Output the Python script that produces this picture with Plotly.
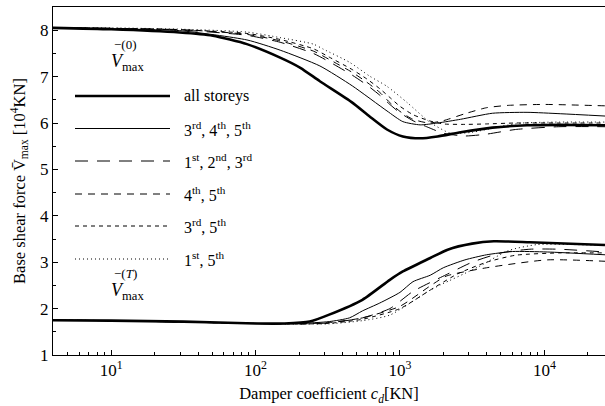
import numpy as np
import plotly.graph_objects as go

# Damper coefficient samples (log10 of c_d in KN) and base shear (10^4 KN)
# Upper family: V_max^(0)
lg_all_0 = [0.595, 1.0, 1.475, 1.704, 1.94, 2.17, 2.31, 2.445, 2.67, 2.79, 2.91, 3.02, 3.14, 3.26, 3.42, 3.64, 3.88, 4.11, 4.42]
v_all_0 = [8.05, 8.02, 7.95, 7.88, 7.70, 7.41, 7.19, 6.90, 6.44, 6.14, 5.86, 5.71, 5.67, 5.71, 5.80, 5.90, 5.95, 5.96, 5.95]

lg_345_0 = [0.595, 1.0, 1.475, 1.94, 2.17, 2.445, 2.67, 2.91, 3.02, 3.14, 3.26, 3.42, 3.64, 3.88, 4.11, 4.42]
v_345_0 = [8.05, 8.03, 7.99, 7.79, 7.57, 7.23, 6.80, 6.26, 6.03, 5.96, 6.00, 6.08, 6.21, 6.23, 6.20, 6.15]

lg_123_0 = [0.595, 1.0, 1.5, 1.94, 2.17, 2.4, 2.51, 2.67, 2.77, 2.86, 2.93, 3.0, 3.09, 3.2, 3.3, 3.45, 3.6, 3.8, 4.1, 4.42]
v_123_0 = [8.05, 8.04, 8.0, 7.89, 7.74, 7.50, 7.32, 7.03, 6.82, 6.60, 6.40, 6.22, 6.05, 5.90, 5.78, 5.72, 5.76, 5.86, 5.92, 5.92]

lg_45_0 = [0.595, 1.0, 1.5, 1.94, 2.17, 2.4, 2.51, 2.67, 2.77, 2.86, 2.93, 3.0, 3.09, 3.2, 3.3, 3.45, 3.6, 3.75, 4.0, 4.42]
v_45_0 = [8.05, 8.04, 8.01, 7.91, 7.77, 7.55, 7.37, 7.09, 6.88, 6.66, 6.44, 6.25, 6.08, 6.00, 6.05, 6.20, 6.33, 6.38, 6.40, 6.37]

lg_35_0 = [0.595, 1.0, 1.5, 1.94, 2.17, 2.4, 2.51, 2.67, 2.77, 2.86, 2.93, 3.0, 3.09, 3.2, 3.3, 3.45, 3.6, 3.8, 4.1, 4.42]
v_35_0 = [8.05, 8.04, 8.01, 7.93, 7.80, 7.60, 7.42, 7.15, 6.95, 6.74, 6.55, 6.36, 6.18, 6.05, 5.98, 5.97, 5.98, 6.00, 6.00, 6.00]

lg_15_0 = [0.595, 1.0, 1.5, 1.94, 2.17, 2.4, 2.47, 2.65, 2.79, 2.91, 3.05, 3.21, 3.35, 3.5, 3.7, 3.85, 4.1, 4.42]
v_15_0 = [8.05, 8.05, 8.02, 7.96, 7.84, 7.70, 7.59, 7.31, 7.01, 6.79, 6.44, 6.01, 5.78, 5.80, 5.93, 6.00, 6.02, 6.02]

# Lower family: V_max^(T)
lg_all_T = [0.595, 1.0, 1.5, 2.0, 2.2, 2.375, 2.51, 2.74, 2.93, 3.02, 3.21, 3.33, 3.5, 3.65, 3.9, 4.42]
v_all_T = [1.75, 1.74, 1.72, 1.68, 1.68, 1.72, 1.87, 2.19, 2.62, 2.80, 3.09, 3.27, 3.40, 3.45, 3.43, 3.37]

lg_345_T = [0.595, 1.0, 2.0, 2.3, 2.51, 2.65, 2.74, 2.86, 3.0, 3.09, 3.21, 3.3, 3.45, 3.6, 3.78, 4.02, 4.42]
v_345_T = [1.75, 1.74, 1.68, 1.68, 1.72, 1.80, 1.95, 2.12, 2.35, 2.58, 2.72, 2.88, 3.05, 3.16, 3.23, 3.22, 3.16]

lg_123_T = [0.595, 1.0, 2.0, 2.3, 2.5, 2.74, 2.93, 3.09, 3.32, 3.5, 3.7, 3.9, 4.1, 4.42]
v_123_T = [1.75, 1.74, 1.68, 1.67, 1.69, 1.80, 2.00, 2.37, 2.73, 3.00, 3.20, 3.28, 3.28, 3.22]

lg_45_T = [0.595, 1.0, 2.0, 2.3, 2.51, 2.74, 3.0, 3.21, 3.32, 3.6, 4.02, 4.42]
v_45_T = [1.75, 1.74, 1.68, 1.67, 1.70, 1.80, 2.05, 2.49, 2.70, 2.88, 3.05, 3.02]

lg_35_T = [0.595, 1.0, 2.0, 2.3, 2.5, 2.74, 3.0, 3.21, 3.4, 3.6, 3.8, 4.1, 4.42]
v_35_T = [1.75, 1.74, 1.68, 1.67, 1.68, 1.77, 2.00, 2.40, 2.75, 3.00, 3.15, 3.20, 3.20]

lg_15_T = [0.595, 1.0, 2.0, 2.3, 2.5, 2.74, 2.93, 3.21, 3.28, 3.55, 3.75, 3.95, 4.2, 4.42]
v_15_T = [1.75, 1.74, 1.68, 1.67, 1.67, 1.74, 1.86, 2.40, 2.51, 2.91, 3.25, 3.38, 3.38, 3.36]

legend_labels = [
    "all storeys",
    "3<sup>rd</sup>, 4<sup>th</sup>, 5<sup>th</sup>",
    "1<sup>st</sup>, 2<sup>nd</sup>, 3<sup>rd</sup>",
    "4<sup>th</sup>, 5<sup>th</sup>",
    "3<sup>rd</sup>, 5<sup>th</sup>",
    "1<sup>st</sup>, 5<sup>th</sup>",
]

x_tick_vals = [10, 100, 1000, 10000]
x_tick_text = ["10<sup>1</sup>", "10<sup>2</sup>", "10<sup>3</sup>", "10<sup>4</sup>"]
y_tick_vals = [1, 2, 3, 4, 5, 6, 7, 8]

styles = [
    dict(width=2.6, dash="solid"),
    dict(width=1.0, dash="solid"),
    dict(width=1.0, dash="13px,9px"),
    dict(width=1.0, dash="7px,6px"),
    dict(width=1.0, dash="4px,4px"),
    dict(width=1.0, dash="1px,3px"),
]

series = [
    [(lg_all_0, v_all_0), (lg_all_T, v_all_T)],
    [(lg_345_0, v_345_0), (lg_345_T, v_345_T)],
    [(lg_123_0, v_123_0), (lg_123_T, v_123_T)],
    [(lg_45_0, v_45_0), (lg_45_T, v_45_T)],
    [(lg_35_0, v_35_0), (lg_35_T, v_35_T)],
    [(lg_15_0, v_15_0), (lg_15_T, v_15_T)],
]

FONT = "Liberation Serif, Times New Roman, serif"
W, H = 605, 406
ML, MR, MT, MB = 53, 0, 7, 51

fig = go.Figure()
for st, pair in zip(styles, series):
    for lg, v in pair:
        fig.add_trace(go.Scatter(
            x=10 ** np.array(lg), y=v, mode="lines",
            line=dict(color="black", width=st["width"], dash=st["dash"],
                      shape="spline", smoothing=0.6),
            showlegend=False, hoverinfo="skip",
        ))

# Hand-drawn legend block with long line samples
pw = W - ML - MR
ph = H - MT - MB
def px_to_paper_x(px):
    return (px - ML) / pw
def py_to_paper_y(py):
    return 1 - (py - MT) / ph

legend_rows_py = [96, 128.5, 161, 194, 226, 259]
for st, label, py in zip(styles, legend_labels, legend_rows_py):
    yp = py_to_paper_y(py)
    fig.add_shape(type="line", xref="paper", yref="paper",
                  x0=px_to_paper_x(75), x1=px_to_paper_x(170), y0=yp, y1=yp,
                  line=dict(color="black", width=st["width"], dash=st["dash"]))
    fig.add_annotation(xref="paper", yref="paper", x=px_to_paper_x(182), y=yp,
                       text=label, showarrow=False, xanchor="left", yanchor="middle",
                       font=dict(family=FONT, size=16, color="black"))

# Family labels
for top_py, sup in [(44, "(0)"), (273, "(<i>T</i>)")]:
    fig.add_annotation(xref="paper", yref="paper", x=px_to_paper_x(112), y=py_to_paper_y(top_py),
                       text="\u2212" + sup, showarrow=False, xanchor="left", yanchor="middle",
                       font=dict(family=FONT, size=13, color="black"))
    fig.add_annotation(xref="paper", yref="paper", x=px_to_paper_x(109), y=py_to_paper_y(top_py + 18),
                       text="<i>V</i><sub>max</sub>", showarrow=False, xanchor="left", yanchor="middle",
                       font=dict(family=FONT, size=18, color="black"))

fig.update_layout(
    width=W, height=H,
    margin=dict(l=ML, r=MR, t=MT, b=MB),
    paper_bgcolor="white", plot_bgcolor="white",
    font=dict(family=FONT, size=16, color="black"),
    xaxis=dict(
        type="log", range=[0.597, 4.42],
        tickvals=x_tick_vals, ticktext=x_tick_text,
        ticks="inside", ticklen=5, tickcolor="black",
        minor=dict(ticks="inside", ticklen=3, tickcolor="black",
                   tickvals=[m * 10 ** d for d in range(0, 5) for m in range(2, 10)]),
        showline=True, linecolor="black", linewidth=1, mirror=True,
        showgrid=False, zeroline=False,
        tickfont=dict(family=FONT, size=17),
        title=dict(text="Damper coefficient <i>c<sub>d</sub></i>[KN]",
                   font=dict(family=FONT, size=16.5), standoff=8),
    ),
    yaxis=dict(
        range=[1, 8.5], tickvals=y_tick_vals,
        ticks="inside", ticklen=5, tickcolor="black",
        minor=dict(ticks="inside", ticklen=3, tickcolor="black", dtick=0.5),
        showline=True, linecolor="black", linewidth=1, mirror=False,
        showgrid=False, zeroline=False,
        tickfont=dict(family=FONT, size=17),
        title=dict(text="Base shear force V\u0304<sub>max</sub> [10<sup>4</sup>KN]",
                   font=dict(family=FONT, size=16.5), standoff=10),
    ),
)

fig.write_html("out.html")
